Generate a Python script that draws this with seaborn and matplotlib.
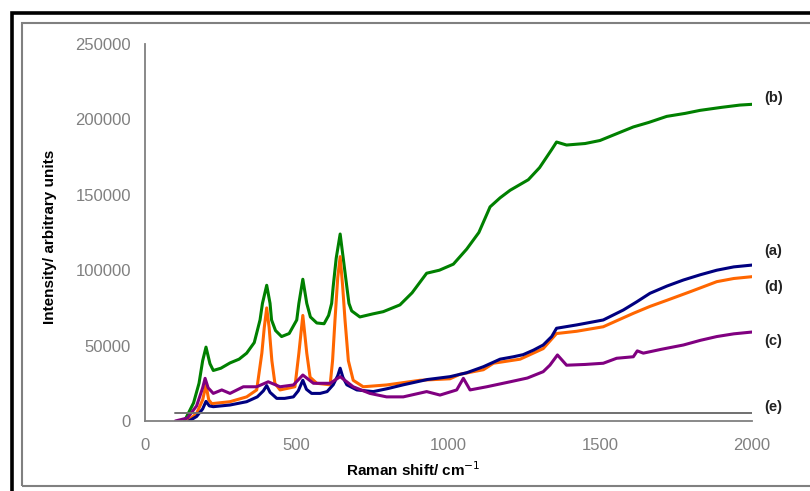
import numpy as np
import pandas as pd
import matplotlib
matplotlib.use("Agg")
import matplotlib.pyplot as plt
import seaborn as sns
from matplotlib.patches import Rectangle

# Raman spectra, intensity in arbitrary units vs Raman shift (cm^-1)
b_shift = [130, 160, 178, 190, 201, 214, 225, 250, 280, 310, 335, 360, 379, 387, 401, 412, 417,
           430, 450, 475, 500, 507, 520, 533, 545, 566, 590, 605, 615, 620, 630, 643, 655, 665,
           672, 681, 708, 750, 785, 840, 880, 928, 970, 1016, 1060, 1100, 1137, 1170, 1203,
           1263, 1300, 1340, 1356, 1389, 1450, 1499, 1560, 1609, 1660, 1719, 1780, 1829, 1900,
           1960, 2000]
b_int = [0, 12000, 25000, 40000, 49000, 38000, 33500, 35000, 38500, 41000, 45000, 52000, 67000,
         78000, 90000, 78000, 67000, 60000, 56000, 58000, 67000, 78000, 94000, 78000, 69000,
         65000, 64500, 70000, 78000, 89000, 108000, 124000, 105000, 89000, 78000, 73000, 69000,
         71000, 72500, 77000, 85000, 98000, 100000, 104000, 114000, 125000, 142000, 148000,
         153000, 160000, 168000, 180000, 185000, 183000, 184000, 186000, 191000, 195000, 198000,
         202000, 204000, 206000, 208000, 209500, 210000]

d_shift = [140, 170, 190, 201, 210, 220, 280, 335, 368, 385, 393, 401, 409, 418, 428, 445, 494,
           507, 520, 533, 544, 566, 610, 618, 626, 635, 643, 651, 659, 670, 686, 719, 796, 906,
           1005, 1038, 1115, 1148, 1236, 1312, 1356, 1422, 1510, 1560, 1609, 1664, 1719, 1800,
           1884, 1940, 2000]
d_int = [0, 5000, 14000, 24000, 14000, 11500, 12800, 16000, 20600, 45000, 62000, 75000, 62000,
         40000, 25000, 20600, 22700, 45000, 70000, 45000, 29000, 25000, 24000, 40000, 67000,
         95000, 109000, 90000, 67000, 40000, 27000, 22700, 23900, 27000, 28000, 31000, 34000,
         38300, 41000, 48000, 58000, 59500, 62500, 67000, 71400, 76000, 80000, 86000, 92400,
         94500, 95700]

a_shift = [145, 170, 190, 201, 212, 225, 280, 335, 370, 390, 401, 412, 434, 460, 489, 505, 520,
           532, 549, 577, 600, 620, 635, 643, 652, 665, 698, 752, 800, 851, 930, 1005, 1060, 1115,
           1170, 1214, 1246, 1280, 1312, 1340, 1356, 1422, 1510, 1576, 1620, 1664, 1720, 1774,
           1830, 1884, 1940, 2000]
a_int = [0, 3000, 8000, 13000, 10000, 9500, 10600, 12800, 16000, 20000, 23500, 19000, 15000,
         15000, 16000, 20000, 27000, 21000, 18300, 18300, 19500, 24000, 30000, 35000, 29000,
         24000, 20600, 19500, 21500, 24000, 27500, 29400, 32000, 36000, 41000, 42600, 44000,
         47000, 50400, 56000, 61500, 63700, 67000, 73600, 79000, 84700, 89500, 93500, 97000,
         100000, 102200, 103400]

c_shift = [100, 140, 170, 190, 198, 208, 225, 253, 280, 324, 368, 406, 445, 489, 520, 555, 610,
           643, 686, 741, 796, 851, 928, 972, 1027, 1049, 1071, 1126, 1203, 1260, 1312, 1334,
           1359, 1389, 1450, 1510, 1554, 1609, 1622, 1642, 1700, 1774, 1830, 1884, 1940, 2000]
c_int = [0, 2000, 10000, 22000, 28300, 22000, 18300, 20600, 18300, 22700, 22700, 26000, 22700,
         23900, 30500, 25000, 25000, 29400, 22700, 18300, 16000, 16000, 19500, 17200, 20600,
         28300, 20600, 22700, 26000, 28500, 32700, 37000, 43800, 37000, 37500, 38300, 41600,
         42600, 46500, 45000, 47500, 50400, 53500, 56000, 57800, 59000]

e_shift = [100, 2000]
e_int = [5500, 5500]

spectra = [
    ("(b)", b_shift, b_int, "#008000"),
    ("(d)", d_shift, d_int, "#FF6600"),
    ("(a)", a_shift, a_int, "#000080"),
    ("(c)", c_shift, c_int, "#800080"),
]

curve_labels = ["(b)", "(a)", "(d)", "(c)", "(e)"]
label_y = [214000, 113000, 89000, 53000, 9300]

x_ticks = [0, 500, 1000, 1500, 2000]
y_ticks = [0, 50000, 100000, 150000, 200000, 250000]

sns.set_style("white")
plt.rcParams["font.family"] = ["Liberation Sans", "DejaVu Sans"]

fig = plt.figure(figsize=(8.10, 4.91), dpi=100)
ax = fig.add_axes([145 / 810, 70 / 491, 607 / 810, 377 / 491])

for name, xs, ys, col in spectra:
    df = pd.DataFrame({"shift": xs, "intensity": ys})
    sns.lineplot(data=df, x="shift", y="intensity", ax=ax, color=col, linewidth=2.2,
                 estimator=None, sort=False)

df_e = pd.DataFrame({"shift": e_shift, "intensity": e_int})
sns.lineplot(data=df_e, x="shift", y="intensity", ax=ax, color="#707070", linewidth=1.4,
             estimator=None, sort=False)

ax.set_xlim(0, 2000)
ax.set_ylim(0, 250000)
ax.set_xticks(x_ticks)
ax.set_yticks(y_ticks)
ax.set_xticklabels([str(v) for v in x_ticks])
ax.set_yticklabels([str(v) for v in y_ticks])

for side in ("top", "right"):
    ax.spines[side].set_visible(False)
for side in ("left", "bottom"):
    ax.spines[side].set_color("#808080")
    ax.spines[side].set_linewidth(1.3)

ax.tick_params(axis="both", direction="out", length=4, width=1.2, color="#808080",
               labelcolor="#808080", labelsize=12)
ax.tick_params(axis="x", pad=8)
ax.tick_params(axis="y", pad=6)
ax.set_xlabel("")
ax.set_ylabel("")

fig.text(413 / 810, 1 - 470 / 491, "Raman shift/ cm$^{-1}$", ha="center", va="center",
         fontsize=11, fontweight="bold", color="black")
fig.text(50 / 810, 1 - 237 / 491, "Intensity/ arbitrary units", ha="center", va="center",
         rotation=90, fontsize=11, fontweight="bold", color="black")

for lab, yv in zip(curve_labels, label_y):
    ax.text(2040, yv, lab, ha="left", va="center", fontsize=10.5, fontweight="bold",
            color="#222222", clip_on=False)

# page frame: thick black outer border and thin grey inner border
fig.patches.append(Rectangle((11.5 / 810, -0.1), 2.0, 1 - 13 / 491 + 0.1,
                             transform=fig.transFigure, fill=False, edgecolor="black",
                             linewidth=2.6))
fig.patches.append(Rectangle((21.5 / 810, 5 / 491), 2.0, 1 - 22.5 / 491 - 5 / 491,
                             transform=fig.transFigure, fill=False, edgecolor="#808080",
                             linewidth=1.5))

fig.savefig("out.png", dpi=100)
